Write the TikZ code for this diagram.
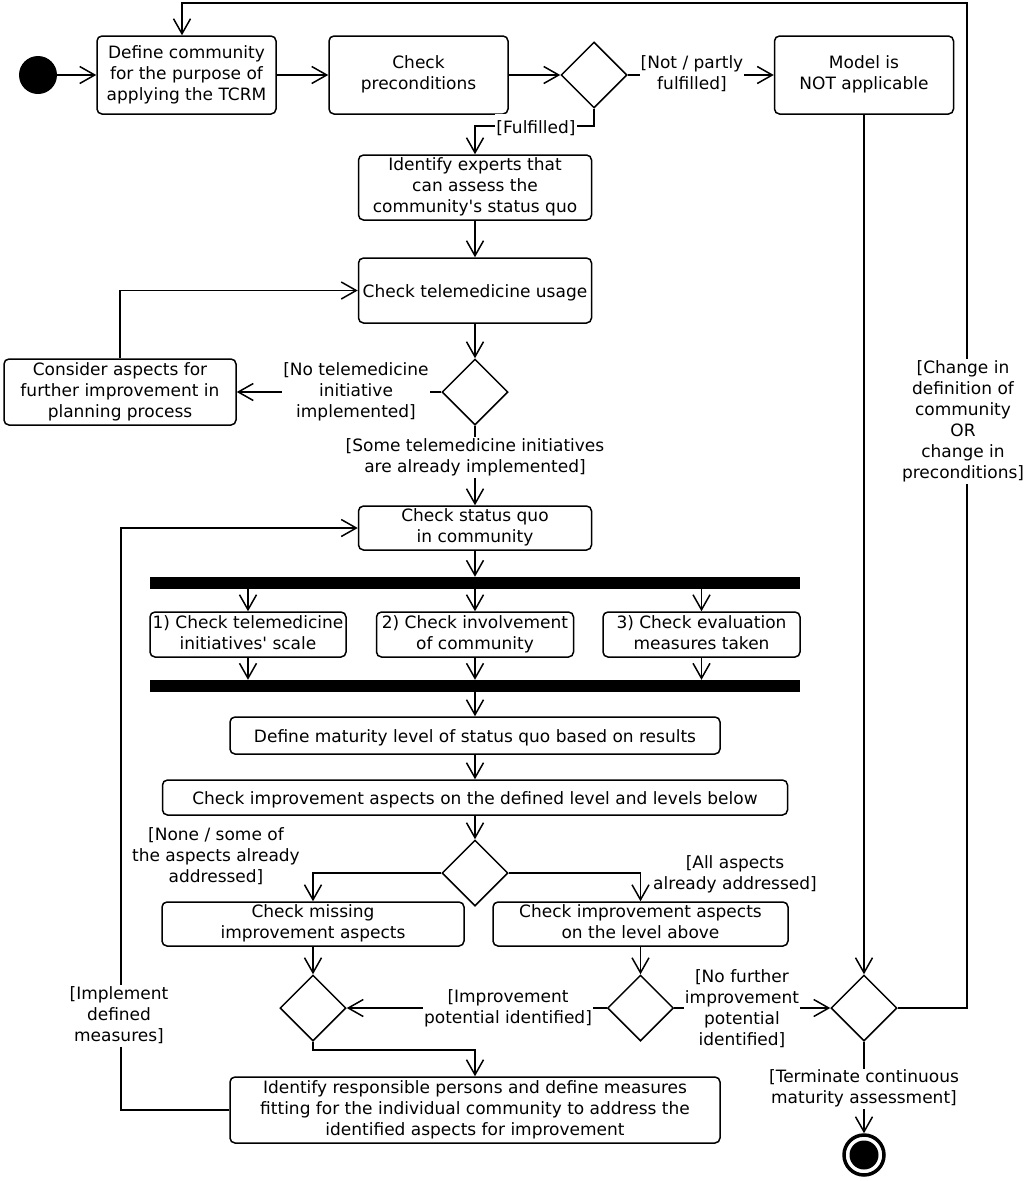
\documentclass[tikz,border=0pt]{standalone}
\usepackage{fontspec}
\setmainfont{DejaVu Sans}
\usetikzlibrary{arrows.meta,shapes.geometric}
\begin{document}
\begin{tikzpicture}[x=1pt,y=-1pt,
  every node/.style={font=\fontsize{17}{21}\selectfont},
  txt/.style={execute at begin node={\rule{0pt}{18.7pt}}, execute at end node={\rule[-4.3pt]{0pt}{4.3pt}}},
  act/.style={txt,draw,rectangle,rounded corners=5pt,line width=1.5pt,align=center,inner sep=0pt,fill=white},
  dec/.style={draw,diamond,line width=1.5pt,minimum width=66pt,minimum height=66pt,inner sep=0pt},
  bar/.style={fill=black,rectangle,minimum width=650pt,minimum height=12pt,inner sep=0pt},
  lbl/.style={txt,fill=white,align=center,inner sep=1pt},
  arr/.style={line width=1.5pt,-{Straight Barb[length=15pt,width=17pt]}},
]
\fill[white] (0,0) rectangle (1029,1181);
\useasboundingbox (0,0) rectangle (1029,1181);

% nodes
\node[circle,fill=black,minimum size=38pt,inner sep=0pt] (start) at (38,75) {};
\node[act,minimum width=179pt,minimum height=78pt] (define) at (186.5,75) {Define community\\for the purpose of\\applying the TCRM};
\node[act,minimum width=179pt,minimum height=78pt] (precond) at (418.5,75) {Check\\preconditions};
\node[dec] (d1) at (594,75) {};
\node[act,minimum width=179pt,minimum height=78pt] (notapp) at (864,75) {Model is\\NOT applicable};
\node[act,minimum width=233pt,minimum height=65pt] (experts) at (475,187.5) {Identify experts that\\can assess the\\community\textquotesingle s status quo};
\node[act,minimum width=233pt,minimum height=65pt] (usage) at (475,290.5) {Check telemedicine usage};
\node[dec] (d2) at (475,392) {};
\node[act,minimum width=232pt,minimum height=66pt] (consider) at (120,392) {Consider aspects for\\further improvement in\\planning process};
\node[act,minimum width=233pt,minimum height=44pt] (status) at (475,528) {Check status quo\\in community};
\node[bar] (fork) at (475,583) {};
\node[act,minimum width=196pt,minimum height=45pt] (c1) at (248,634.5) {1) Check telemedicine\\initiatives\textquotesingle\ scale};
\node[act,minimum width=197pt,minimum height=45pt] (c2) at (475,634.5) {2) Check involvement\\of community};
\node[act,minimum width=197pt,minimum height=45pt] (c3) at (701.5,634.5) {3) Check evaluation\\measures taken};
\node[bar] (join) at (475,686) {};
\node[act,minimum width=490pt,minimum height=37pt] (maturity) at (475,735.5) {Define maturity level of status quo based on results};
\node[act,minimum width=625pt,minimum height=35pt] (improve) at (475,797.5) {Check improvement aspects on the defined level and levels below};
\node[dec] (d3) at (475,873) {};
\node[act,minimum width=302pt,minimum height=44pt] (missing) at (313,924) {Check missing\\improvement aspects};
\node[act,minimum width=295pt,minimum height=44pt] (above) at (640.5,924) {Check improvement aspects\\on the level above};
\node[dec] (d4) at (313,1008) {};
\node[dec] (d5) at (640.5,1008) {};
\node[dec] (d6) at (864,1008) {};
\node[act,minimum width=490pt,minimum height=66pt] (resp) at (475,1110) {Identify responsible persons and define measures\\fitting for the individual community to address the\\identified aspects for improvement};
\node[circle,draw,line width=3.5pt,minimum size=40pt,inner sep=0pt] (end) at (864,1155) {};
\node[circle,fill=black,minimum size=29pt,inner sep=0pt] (endin) at (end.center) {};

\coordinate (fc) at (475,126);
\coordinate (tr) at (967,3);
\coordinate (rc) at (475,1050);
\coordinate (ix) at (121,800);

% connectors
\draw[arr] (start) -- (define);
\draw[arr] (define) -- (precond);
\draw[arr] (precond.east) -- (d1.west);
\draw[arr] (d1.east) -- (notapp.west);
\draw[arr] (d1.south) |- (fc) -- (experts.north);
\draw[arr] (experts) -- (usage);
\draw[arr] (usage) -- (d2);
\draw[arr] (d2.west) -- (consider.east);
\draw[arr] (consider.north) |- (usage.west);
\draw[arr] (d2.south) -- (status.north);
\draw[arr] (status) -- (fork);
\draw[arr] (fork.south -| c1.north) -- (c1.north);
\draw[arr] (fork.south -| c2.north) -- (c2.north);
\draw[arr] (fork.south -| c3.north) -- (c3.north);
\draw[arr] (c1.south) -- (join.north -| c1.south);
\draw[arr] (c2.south) -- (join.north -| c2.south);
\draw[arr] (c3.south) -- (join.north -| c3.south);
\draw[arr] (join) -- (maturity);
\draw[arr] (maturity) -- (improve);
\draw[arr] (improve) -- (d3);
\draw[arr] (d3.west) -| (missing.north);
\draw[arr] (d3.east) -| (above.north);
\draw[arr] (missing) -- (d4);
\draw[arr] (above) -- (d5);
\draw[arr] (d5.west) -- (d4.east);
\draw[arr] (d5.east) -- (d6.west);
\draw[arr] (notapp) -- (d6);
\draw[arr] (d6.east) -| (tr) -| ([xshift=-4.5pt]define.north);
\draw[arr] (d6) -- (end);
\draw[arr] (d4.south) |- (rc) -- (resp.north);
\draw[arr] (resp.west) -| (ix) |- (status.west);

% labels
\node[lbl] (lnot) at (692,75) {[Not / partly\\fulfilled]};
\node[lbl] (lful) at (536,126) {[Fulfilled]};
\node[lbl] (lno) at (356,392) {[No telemedicine\\initiative\\implemented]};
\node[lbl] (lsome) at (475,457.5) {[Some telemedicine initiatives\\are already implemented]};
\node[lbl] (lnone) at (216,857) {[None / some of\\the aspects already\\addressed]};
\node[lbl] (lall) at (735,875) {[All aspects\\already addressed]};
\node[lbl] (limp) at (508,1008.5) {[Improvement\\potential identified]};
\node[lbl] (lnofur) at (742,1009.5) {[No further\\improvement\\potential\\identified]};
\node[lbl] (lchange) at (963,421.5) {[Change in\\definition of\\community\\OR\\change in\\preconditions]};
\node[lbl] (lterm) at (864,1089) {[Terminate continuous\\maturity assessment]};
\node[lbl] (limpl) at (119,1016) {[Implement\\defined\\measures]};
\end{tikzpicture}
\end{document}
